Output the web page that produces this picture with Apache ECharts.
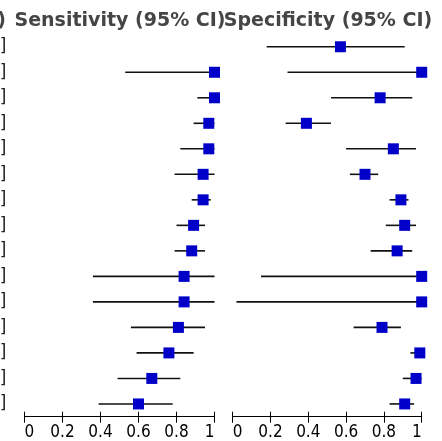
<!DOCTYPE html>
<html>
<head>
<meta charset="utf-8">
<script src="https://cdn.jsdelivr.net/npm/echarts@6/dist/echarts.min.js"></script>
<style>html,body{margin:0;padding:0;background:#fff;}#c{width:442px;height:441px;}</style>
</head>
<body>
<div id="c"></div>
<script>
const studies = ['1','2','3','4','5','6','7','8','9','10','11','12','13','14','15'];
const sens   = [null, 1.00, 1.00, 0.97, 0.97, 0.94, 0.94, 0.89, 0.88, 0.84, 0.84, 0.81, 0.76, 0.67, 0.60];
const sensLo = [null, 0.53, 0.91, 0.89, 0.82, 0.79, 0.88, 0.80, 0.79, 0.36, 0.36, 0.56, 0.59, 0.49, 0.39];
const sensHi = [null, 1.00, 1.00, 1.00, 1.00, 1.00, 0.98, 0.95, 0.95, 1.00, 1.00, 0.95, 0.89, 0.82, 0.78];
const spec   = [0.57, 1.00, 0.78, 0.39, 0.85, 0.70, 0.89, 0.91, 0.87, 1.00, 1.00, 0.79, 0.99, 0.97, 0.91];
const specLo = [0.18, 0.29, 0.52, 0.28, 0.60, 0.62, 0.83, 0.81, 0.73, 0.15, 0.02, 0.64, 0.94, 0.90, 0.83];
const specHi = [0.91, 1.00, 0.95, 0.52, 0.97, 0.77, 0.93, 0.97, 0.95, 1.00, 1.00, 0.89, 1.00, 1.00, 0.96];
const xTicks = [0, 0.2, 0.4, 0.6, 0.8, 1];
const titles = ['Sensitivity (95% CI)', 'Specificity (95% CI)'];

const chart = echarts.init(document.getElementById('c'), null, {renderer: 'canvas'});

const TICK_FONT = "'DejaVu Sans Condensed', 'DejaVu Sans', sans-serif";
const TITLE_FONT = "bold 19px 'DejaVu Sans', sans-serif";
const gridTop = 34, gridH = 382.7;

function ciData(est, lo, hi) {
  return studies.map((s, i) => est[i] == null ? [null, null, s] : [lo[i], hi[i], s]);
}
function ptData(est) {
  return studies.map((s, i) => est[i] == null ? [null, s] : [est[i], s]);
}
function ciSeries(xi, yi, est, lo, hi) {
  return {
    type: 'custom', xAxisIndex: xi, yAxisIndex: yi, clip: false, z: 2,
    data: ciData(est, lo, hi),
    encode: {x: [0, 1], y: 2},
    renderItem: function (params, api) {
      const a = api.value(0), b = api.value(1);
      if (a == null || isNaN(a)) return;
      const p1 = api.coord([a, api.value(2)]);
      const p2 = api.coord([b, api.value(2)]);
      return {type: 'line', shape: {x1: p1[0], y1: p1[1], x2: p2[0], y2: p2[1]},
              style: {stroke: '#111', lineWidth: 1.6}};
    }
  };
}
function ptSeries(xi, yi, est) {
  return {
    type: 'scatter', xAxisIndex: xi, yAxisIndex: yi, clip: false, z: 3,
    symbol: 'rect', symbolSize: 11,
    itemStyle: {color: '#0000c8', opacity: 1},
    data: ptData(est).filter(d => d[0] != null)
  };
}
function xAxes(gi) {
  const base = {
    type: 'value', gridIndex: gi, min: 0, max: 1, interval: 0.2, position: 'bottom',
    splitLine: {show: false}
  };
  return [
    Object.assign({}, base, {
      axisLine: {show: true, lineStyle: {color: '#000', width: 1}},
      axisTick: {show: true, inside: false, length: 6, lineStyle: {color: '#000', width: 1}},
      axisLabel: {show: true, margin: 7, color: '#000', fontSize: 17, fontFamily: TICK_FONT,
                  alignMinLabel: 'left', alignMaxLabel: 'right', hideOverlap: false,
                  formatter: v => String(xTicks.find(t => Math.abs(t - v) < 1e-9) ?? v)}
    }),
    Object.assign({}, base, {
      axisLine: {show: false},
      axisTick: {show: true, inside: true, length: 5, lineStyle: {color: '#000', width: 1}},
      axisLabel: {show: false}
    })
  ];
}
const f2 = v => v == null ? 'NA' : v.toFixed(2);

chart.setOption({
  animation: false,
  backgroundColor: '#fff',
  grid: [
    {left: 24.5, width: 190, top: gridTop, height: gridH, containLabel: false, outerBoundsMode: 'none'},
    {left: 232.7, width: 189, top: gridTop, height: gridH, containLabel: false, outerBoundsMode: 'none'}
  ],
  xAxis: [...xAxes(0), ...xAxes(1)],
  yAxis: [
    {type: 'category', gridIndex: 0, data: studies, inverse: true, boundaryGap: true,
     axisLine: {show: false}, axisTick: {show: false}, splitLine: {show: false},
     axisLabel: {show: true, margin: 18, color: '#222', fontSize: 17, fontFamily: "'DejaVu Sans', sans-serif",
                 formatter: (v, i) => f2(spec[i]) + ' [' + f2(specLo[i]) + ', ' + f2(specHi[i]) + ']'}},
    {type: 'category', gridIndex: 1, data: studies, inverse: true, boundaryGap: true,
     axisLine: {show: false}, axisTick: {show: false}, splitLine: {show: false}, axisLabel: {show: false}}
  ],
  graphic: [
    {type: 'text', x: 6, y: 21, style: {text: 'Specificity (95% CI)', align: 'right', verticalAlign: 'middle',
      fill: '#454545', font: TITLE_FONT}},
    {type: 'text', x: 120, y: 21, style: {text: titles[0], align: 'center', verticalAlign: 'middle',
      fill: '#454545', font: TITLE_FONT}},
    {type: 'text', x: 328, y: 21, style: {text: titles[1], align: 'center', verticalAlign: 'middle',
      fill: '#454545', font: TITLE_FONT}}
  ],
  series: [
    ciSeries(0, 0, sens, sensLo, sensHi),
    ptSeries(0, 0, sens),
    ciSeries(2, 1, spec, specLo, specHi),
    ptSeries(2, 1, spec)
  ]
});
</script>
</body>
</html>
